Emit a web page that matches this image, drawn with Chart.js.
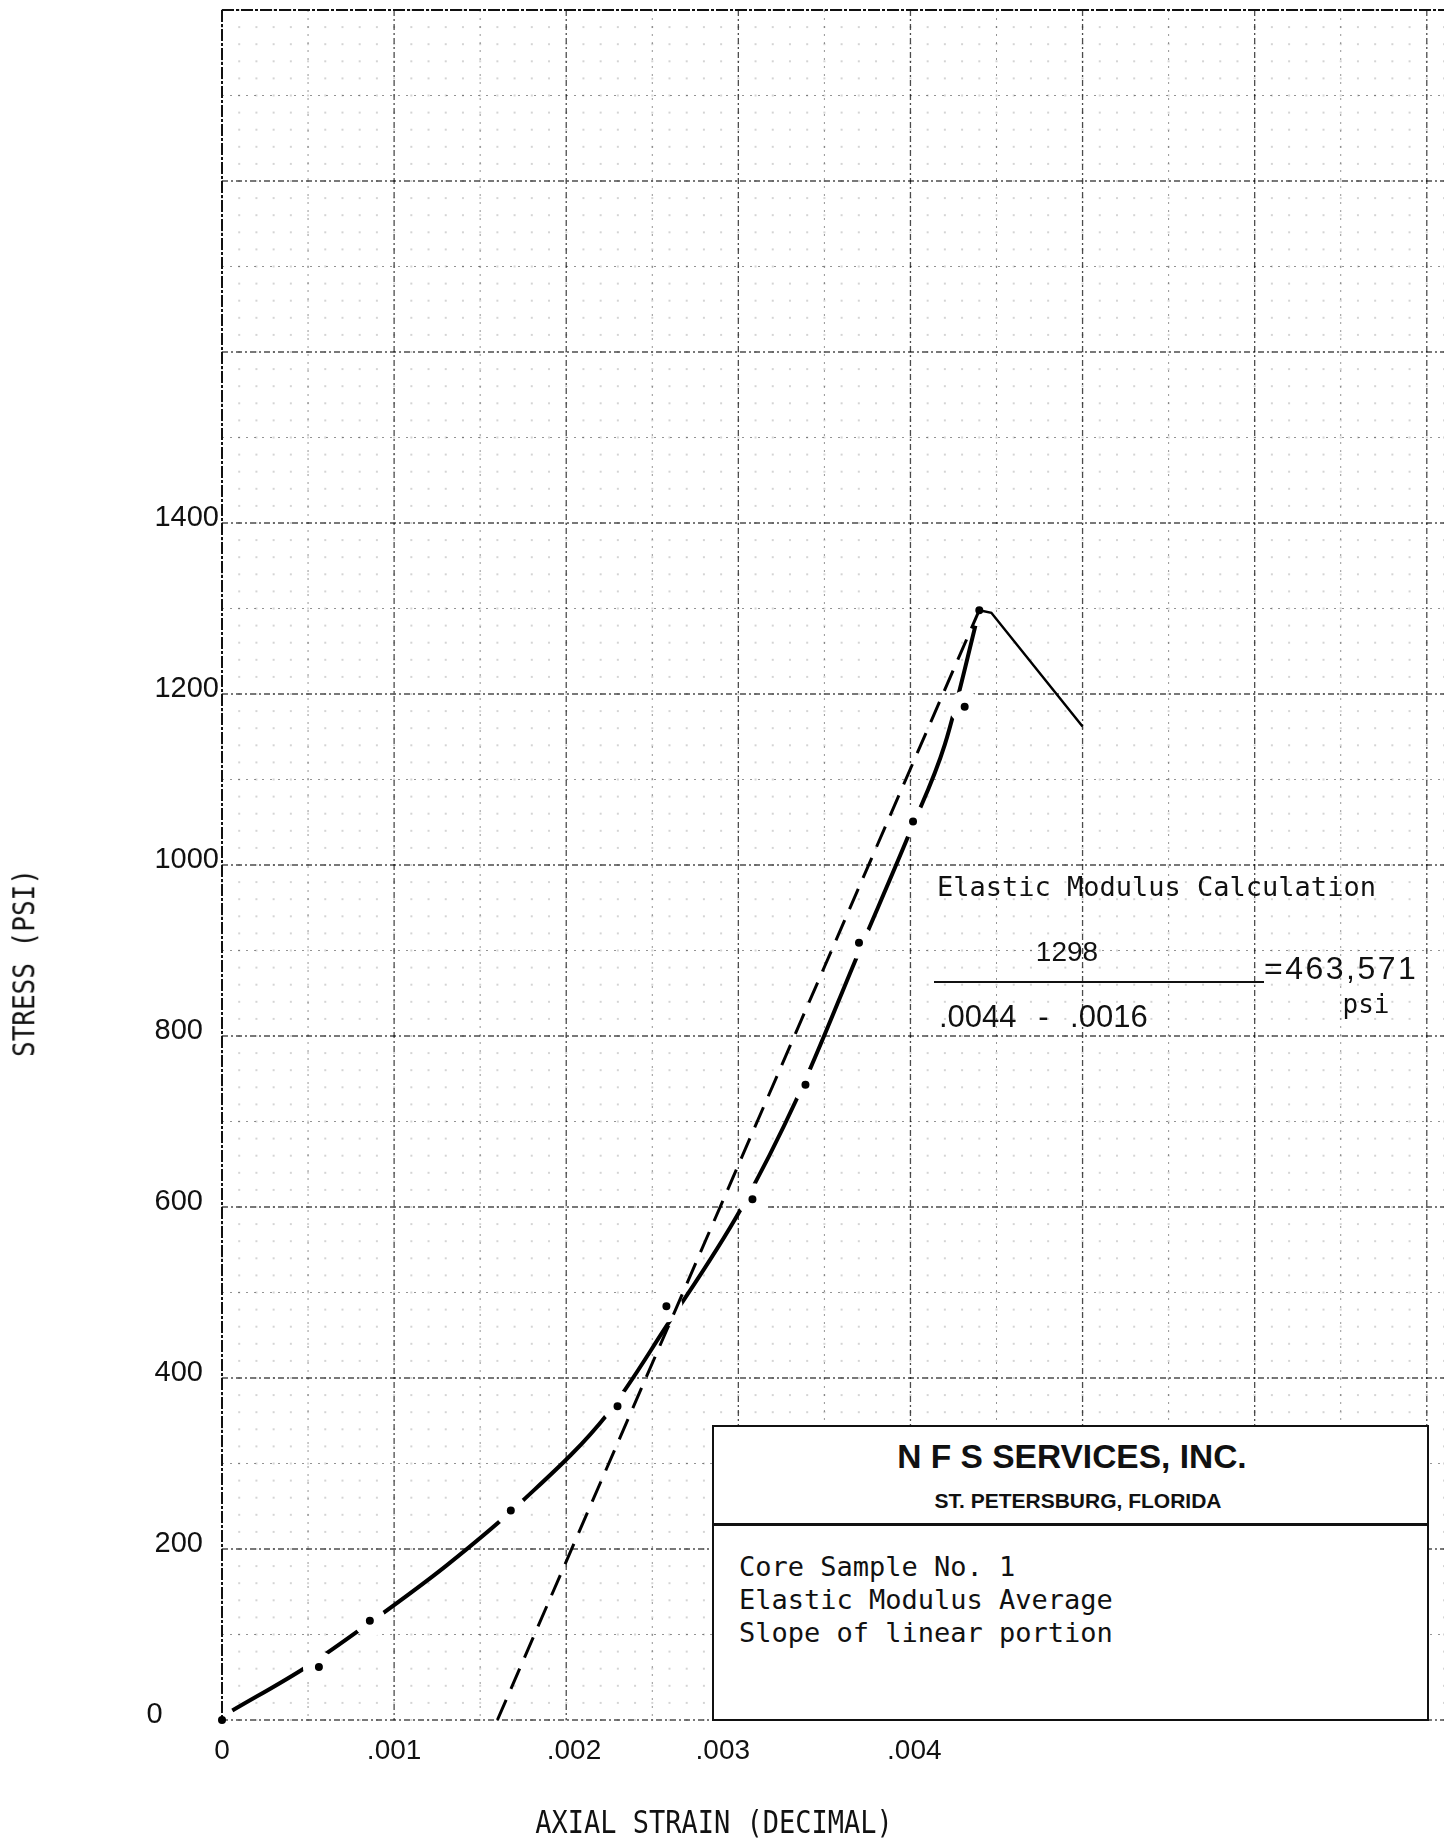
<!DOCTYPE html>
<html>
<head>
<meta charset="utf-8">
<title>Stress vs Axial Strain - Core Sample No. 1</title>
<script src="https://cdn.jsdelivr.net/npm/chart.js@4.4.1/dist/chart.umd.min.js"></script>
<style>
  html, body { margin: 0; padding: 0; background: #fff; }
  #wrap { position: relative; width: 1444px; height: 1839px; overflow: hidden; background: #fff; }
  #myChart { position: absolute; left: 0; top: 0; }
  .txt { position: absolute; white-space: pre; color: #111; line-height: 1; }
  .mono { font-family: "DejaVu Sans Mono", monospace; }
  .sans { font-family: "Liberation Sans", Arial, sans-serif; }

  #yTitle { left: 24px; top: 963px; font-size: 26px; transform: translate(-50%, -50%) rotate(-90deg) scale(1, 1.18); }
  #xTitle { left: 714px; top: 1822px; font-size: 27px; transform: translate(-50%, -50%) scale(1, 1.15); }

  #calcTitle { left: 937px; top: 873px; font-size: 27px; }
  #calcNum { left: 1067px; top: 952px; font-size: 28px; transform: translate(-50%, -50%); }
  #calcBar { position: absolute; left: 934px; top: 981px; width: 330px; height: 2px; background: #111; }
  #calcDen { left: 939px; top: 1001px; font-size: 31px; word-spacing: 13px; }
  #calcRes { left: 1264px; top: 952px; font-size: 32px; letter-spacing: 2.5px; }
  #calcUnit { left: 1366px; top: 991px; font-size: 26px; transform: translateX(-50%); }

  #box { position: absolute; left: 712px; top: 1425px; width: 717px; height: 296px; box-sizing: border-box; border: 2.5px solid #111; background: #fff; }
  #boxRule { position: absolute; left: 712px; top: 1523px; width: 717px; height: 2.5px; background: #111; }
  #boxName { left: 1072px; top: 1440px; font-size: 33.5px; font-weight: bold; transform: translateX(-50%); }
  #boxCity { left: 1078px; top: 1490px; font-size: 21px; font-weight: bold; transform: translateX(-50%); }
  #boxNotes { left: 739px; top: 1550px; font-size: 27px; line-height: 33px; }
</style>
</head>
<body>
<div id="wrap">
  <canvas id="myChart" width="1444" height="1839"></canvas>

  <div id="yTitle" class="txt mono">STRESS (PSI)</div>
  <div id="xTitle" class="txt mono">AXIAL STRAIN (DECIMAL)</div>

  <div id="calcTitle" class="txt mono">Elastic Modulus Calculation</div>
  <div id="calcNum" class="txt sans">1298</div>
  <div id="calcBar"></div>
  <div id="calcDen" class="txt sans">.0044 - .0016</div>
  <div id="calcRes" class="txt sans">=463,571</div>
  <div id="calcUnit" class="txt mono">psi</div>

  <div id="box"></div>
  <div id="boxRule"></div>
  <div id="boxName" class="txt sans">N F S SERVICES, INC.</div>
  <div id="boxCity" class="txt sans">ST. PETERSBURG, FLORIDA</div>
  <div id="boxNotes" class="txt mono">Core Sample No. 1
Elastic Modulus Average
Slope of linear portion</div>
</div>

<script>
// measured test points (the dots)
const testStrain = [0, 0.000563, 0.000859, 0.001678, 0.002298, 0.002582, 0.003082, 0.00339, 0.003701, 0.004015, 0.004315, 0.0044];
const testStress = [0, 62, 116, 245, 367, 484, 609, 743, 909, 1051, 1185, 1298];

// hand drawn curve through the points
const curveStrain = [0.00006, 0.00049, 0.00086, 0.0013, 0.00175, 0.00224, 0.00258, 0.00301, 0.00335, 0.0037, 0.004, 0.0042, 0.0044];
const curveStress = [11, 62, 114, 180, 257, 358, 460, 596, 731, 898, 1040, 1141, 1298];

// after failure
const postPeakStrain = [0.0044, 0.00447, 0.005];
const postPeakStress = [1298, 1295, 1162];

// linear portion (modulus line)
const tangentStrain = [0.0016, 0.0044];
const tangentStress = [0, 1298];

const xTickValues = [0, 0.001, 0.002, 0.003, 0.004];
const xTickLabels = ["0", ".001", ".002", ".003", ".004"];
const yTickValues = [0, 200, 400, 600, 800, 1000, 1200, 1400];
const yTickLabels = ["0", "200", "400", "600", "800", "1000", "1200", "1400"];

const xMax = 0.0071, yMax = 2000;
const xMinor = 0.0001, yMinor = 20;

function pts(xs, ys) {
  return xs.map((v, i) => ({ x: v, y: ys[i] }));
}

// graph paper
const paperGrid = {
  id: "paperGrid",
  beforeDatasetsDraw(chart) {
    const { ctx, chartArea: a, scales: { x, y } } = chart;
    const nx = Math.round(xMax / xMinor);
    const ny = Math.round(yMax / yMinor);
    ctx.save();

    // faint dots at the small squares
    ctx.fillStyle = "rgba(0,0,0,0.17)";
    for (let i = 0; i <= nx; i++) {
      const px = x.getPixelForValue(i * xMinor);
      for (let j = 0; j <= ny; j++) {
        const py = y.getPixelForValue(j * yMinor);
        ctx.fillRect(px - 1, py - 1, 2, 2);
      }
    }

    function seg(x1, y1, x2, y2, color, w, dash) {
      ctx.beginPath();
      ctx.strokeStyle = color;
      ctx.lineWidth = w;
      ctx.setLineDash(dash);
      ctx.moveTo(x1, y1);
      ctx.lineTo(x2, y2);
      ctx.stroke();
    }

    // half lines
    for (let i = 5; i <= nx; i += 10) {
      const px = x.getPixelForValue(i * xMinor);
      seg(px, a.top, px, a.bottom, "rgba(0,0,0,0.42)", 1, [2, 6]);
    }
    for (let j = 5; j <= ny; j += 10) {
      const py = y.getPixelForValue(j * yMinor);
      seg(a.left, py, a.right, py, "rgba(0,0,0,0.42)", 1, [2, 6]);
    }

    // main lines
    for (let i = 10; i <= nx; i += 10) {
      const px = x.getPixelForValue(i * xMinor);
      seg(px, a.top, px, a.bottom, "rgba(0,0,0,0.7)", 1.3, [6, 3, 2, 3]);
    }
    for (let j = 0; j < ny; j += 10) {
      const py = y.getPixelForValue(j * yMinor);
      seg(a.left, py, a.right, py, "rgba(0,0,0,0.7)", 1.3, [6, 3, 2, 3]);
    }

    // outer edges
    seg(a.left, a.top, a.left, a.bottom, "#111", 2, [12, 2, 3, 2]);
    seg(a.left, a.top, a.right, a.top, "#111", 2, [12, 2, 3, 2]);
    ctx.restore();
  }
};

function noPad(s) {
  s.paddingTop = 0;
  s.paddingBottom = 0;
  s.paddingLeft = 0;
  s.paddingRight = 0;
}

// the typed strain labels are not quite centred on their lines
function typedX(i) {
  const lead = [0, 0, 2, 0, 1][i];
  const trail = [0, 0, 0, 4, 0][i];
  return " ".repeat(lead) + xTickLabels[i] + " ".repeat(trail);
}

var ctx = document.getElementById("myChart").getContext("2d");

var myChart = new Chart(ctx, {
  type: "line",
  plugins: [paperGrid],
  data: {
    datasets: [
      {
        label: "Linear portion",
        data: pts(tangentStrain, tangentStress),
        borderColor: "#000",
        borderWidth: 3,
        borderDash: [22, 12],
        pointRadius: 0,
        order: 0
      },
      {
        label: "Post peak",
        data: pts(postPeakStrain, postPeakStress),
        borderColor: "#000",
        borderWidth: 2.5,
        pointRadius: 0,
        order: 1
      },
      {
        label: "Test points",
        data: pts(testStrain, testStress),
        showLine: false,
        pointRadius: (c) => (c.raw && c.raw.y === 0 ? 4 : 10),
        pointBorderWidth: (c) => (c.raw && c.raw.y === 0 ? 0 : 12),
        pointBackgroundColor: "#000",
        pointBorderColor: "#fff",
        clip: false,
        order: 2
      },
      {
        label: "Stress-strain curve",
        data: pts(curveStrain, curveStress),
        borderColor: "#000",
        borderWidth: 4,
        cubicInterpolationMode: "monotone",
        pointRadius: 0,
        order: 3
      }
    ]
  },
  options: {
    responsive: false,
    animation: false,
    layout: { autoPadding: false, padding: { top: 10, right: 0, bottom: 0, left: 0 } },
    plugins: {
      legend: { display: false },
      tooltip: { enabled: false }
    },
    scales: {
      x: {
        type: "linear",
        min: 0,
        max: xMax,
        grid: { display: false, drawTicks: false },
        border: { display: false },
        afterBuildTicks: (s) => { s.ticks = xTickValues.map((v) => ({ value: v })); },
        afterFit: (s) => { s.height = 119; noPad(s); },
        ticks: {
          autoSkip: false,
          maxRotation: 0,
          padding: 14,
          color: "#111",
          font: { family: "Liberation Sans", size: 28 },
          callback: (v, i) => typedX(i)
        }
      },
      y: {
        type: "linear",
        min: 0,
        max: yMax,
        grid: { display: false, drawTicks: false },
        border: { display: false },
        afterBuildTicks: (s) => { s.ticks = yTickValues.map((v) => ({ value: v })); },
        afterFit: (s) => { s.width = 222; noPad(s); },
        ticks: {
          autoSkip: false,
          padding: 3,
          labelOffset: -5,
          color: "#111",
          font: { family: "Liberation Sans", size: 29 },
          // typed labels below 1000 sit a little further left on the sheet
          callback: (v, i) => yTickLabels[i] + " ".repeat(v === 0 ? 7 : v <= 800 ? 2 : 0)
        }
      }
    }
  }
});
</script>
</body>
</html>
